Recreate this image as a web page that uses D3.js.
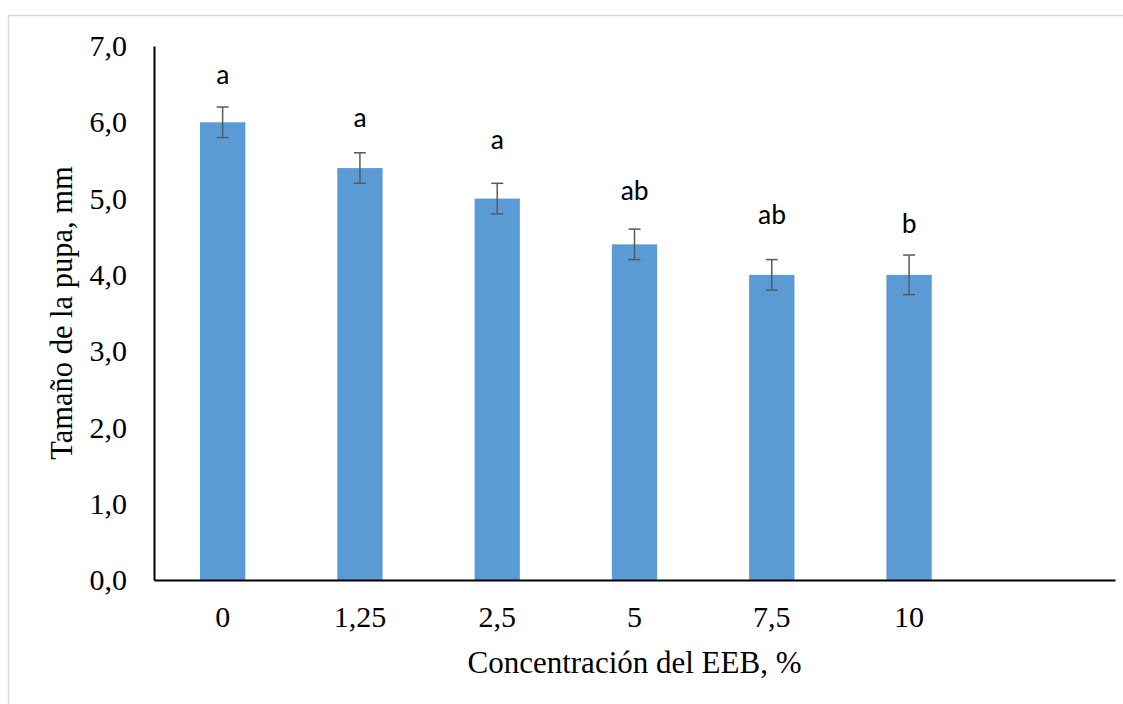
<!DOCTYPE html>
<html>
<head>
<meta charset="utf-8">
<script src="https://cdn.jsdelivr.net/npm/d3@7"></script>
<style>
  body { margin: 0; background: #fff; }
</style>
</head>
<body>
<div id="chart"></div>
<script>
// categories and values
var concentrations = ["0", "1,25", "2,5", "5", "7,5", "10", ""];
var pupaSize = [6.0, 5.4, 5.0, 4.4, 4.0, 4.0];
var errors = [0.2, 0.2, 0.2, 0.2, 0.2, 0.26];
var letters = ["a", "a", "a", "ab", "ab", "b"];
var letterLevel = [6.5, 5.94, 5.65, 4.98, 4.67, 4.55];
var yTicks = [0, 1, 2, 3, 4, 5, 6, 7];

var svgWidth = 1123;
var svgHeight = 704;

var margin = { top: 46, right: 8, bottom: 124, left: 154 };
var chWidth = 1115 - margin.left;
var chHeight = 580 - margin.top;

var svg = d3.select("#chart")
  .append("svg")
  .attr("width", svgWidth)
  .attr("height", svgHeight);

// light frame around the chart area
svg.append("rect")
  .attr("x", 8.5)
  .attr("y", 15.5)
  .attr("width", 1130)
  .attr("height", 700)
  .attr("fill", "none")
  .attr("stroke", "#d9d9d9")
  .attr("stroke-width", 1.5);

var chGroup = svg.append("g")
  .attr("transform", `translate(${margin.left}, ${margin.top})`);

var xScale = d3.scaleBand()
  .domain(concentrations.map((d, i) => i))
  .range([0, chWidth])
  .paddingInner(0.67)
  .paddingOuter(0.335);

var yScale = d3.scaleLinear()
  .domain([0, 7])
  .range([chHeight, 0]);

var yAxis = d3.axisLeft(yScale)
  .tickValues(yTicks)
  .tickSize(0)
  .tickPadding(27)
  .tickFormat(d => d3.format(".1f")(d).replace(".", ","));

var xAxis = d3.axisBottom(xScale)
  .tickSize(0)
  .tickPadding(26)
  .tickFormat(i => concentrations[i]);

// bars
chGroup.selectAll("rect.bar")
  .data(pupaSize)
  .enter()
  .append("rect")
  .attr("class", "bar")
  .attr("x", (d, i) => xScale(i))
  .attr("y", d => yScale(d))
  .attr("width", xScale.bandwidth())
  .attr("height", d => chHeight - yScale(d))
  .style("fill", "#5b9bd5");

// error bars
var errG = chGroup.selectAll("g.err")
  .data(pupaSize)
  .enter()
  .append("g")
  .attr("class", "err")
  .attr("stroke", "#595959")
  .attr("stroke-width", 1.5);

errG.append("line")
  .attr("x1", (d, i) => xScale(i) + xScale.bandwidth() / 2)
  .attr("x2", (d, i) => xScale(i) + xScale.bandwidth() / 2)
  .attr("y1", (d, i) => yScale(d + errors[i]))
  .attr("y2", (d, i) => yScale(d - errors[i]));

[1, -1].forEach(function(s) {
  errG.append("line")
    .attr("x1", (d, i) => xScale(i) + xScale.bandwidth() / 2 - 6)
    .attr("x2", (d, i) => xScale(i) + xScale.bandwidth() / 2 + 6)
    .attr("y1", (d, i) => yScale(d + s * errors[i]))
    .attr("y2", (d, i) => yScale(d + s * errors[i]));
});

// significance letters
chGroup.selectAll("text.letter")
  .data(letters)
  .enter()
  .append("text")
  .attr("class", "letter")
  .text(d => d)
  .attr("x", (d, i) => xScale(i) + xScale.bandwidth() / 2)
  .attr("y", (d, i) => yScale(letterLevel[i]))
  .attr("text-anchor", "middle")
  .style("font-family", "Carlito, 'Open Sans', sans-serif")
  .style("font-size", "28px")
  .style("fill", "#000");

var yG = chGroup.append("g")
  .call(yAxis);

var xG = chGroup.append("g")
  .attr("transform", `translate(0, ${chHeight})`)
  .call(xAxis);

[yG, xG].forEach(function(g) {
  g.select(".domain").attr("stroke", "#000").attr("stroke-width", 2);
  g.selectAll("text")
    .style("font-family", "'Liberation Serif', 'Times New Roman', serif")
    .style("font-size", "30px")
    .style("fill", "#000");
});

chGroup.append("text")
  .attr("x", chWidth / 2)
  .attr("y", 673 - margin.top)
  .attr("text-anchor", "middle")
  .style("font-family", "'Liberation Serif', 'Times New Roman', serif")
  .style("font-size", "31px")
  .text("Concentración del EEB, %");

chGroup.append("text")
  .attr("transform", "rotate(-90)")
  .attr("x", -chHeight / 2)
  .attr("y", 72 - margin.left)
  .attr("text-anchor", "middle")
  .style("font-family", "'Liberation Serif', 'Times New Roman', serif")
  .style("font-size", "30.5px")
  .text("Tamaño de la pupa, mm");
</script>
</body>
</html>
